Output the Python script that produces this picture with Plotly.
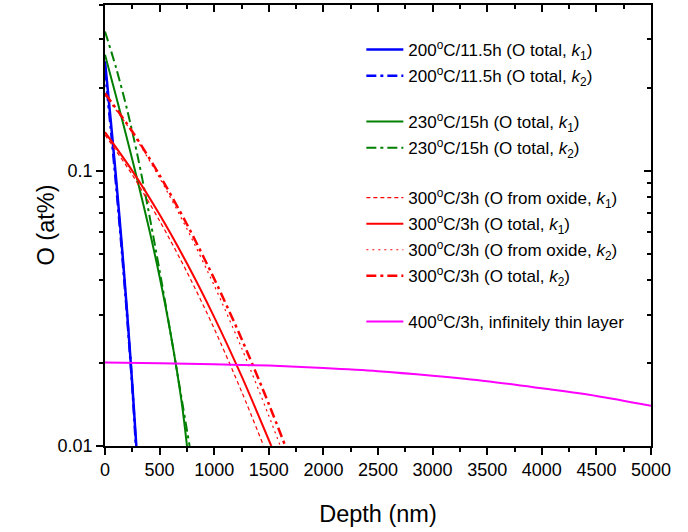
import plotly.graph_objects as go

# ---------------- data ----------------
blue_k1_x = [0, 50, 100, 150, 200, 250, 287]
blue_k1_y = [0.25, 0.156, 0.0951, 0.0560, 0.0315, 0.0167, 0.01]
blue_k2_x = [0, 50, 100, 150, 200, 250, 283]
blue_k2_y = [0.232, 0.1462, 0.0902, 0.0537, 0.0305, 0.0164, 0.01]

green_k1_x = [0, 100, 200, 300, 400, 500, 600, 700, 751]
green_k1_y = [0.264, 0.1871, 0.1315, 0.0914, 0.0624, 0.0412, 0.0257, 0.01462, 0.01]
green_k2_x = [0, 100, 200, 300, 400, 500, 600, 700, 775]
green_k2_y = [0.3206, 0.2377, 0.1683, 0.1125, 0.0710, 0.0433, 0.02576, 0.0150, 0.01]

red_ox_k1_x = [0, 250, 500, 750, 1000, 1250, 1453]
red_ox_k1_y = [0.135, 0.0966, 0.0658, 0.0429, 0.0267, 0.0158, 0.01]
red_tot_k1_x = [0, 250, 500, 750, 1000, 1250, 1523]
red_tot_k1_y = [0.138, 0.0999, 0.0693, 0.0461, 0.0294, 0.01797, 0.01]
red_ox_k2_x = [0, 250, 500, 750, 1000, 1250, 1500, 1605]
red_ox_k2_y = [0.188, 0.1374, 0.0941, 0.0615, 0.0383, 0.02275, 0.01288, 0.01]
red_tot_k2_x = [0, 250, 500, 750, 1000, 1250, 1500, 1651]
red_tot_k2_y = [0.191, 0.1388, 0.0963, 0.0639, 0.0405, 0.02455, 0.01421, 0.01]

mag_x = [0, 500, 1000, 1500, 2000, 2500, 3000, 3500, 4000, 4500, 5000]
mag_y = [0.0201, 0.0200, 0.0198, 0.0196, 0.0192, 0.0187, 0.0180, 0.0172, 0.0162, 0.0152, 0.0140]

x_range = [0, 5000]
x_dtick = 500
x_minor_dtick = 250
y_tickvals = [0.01, 0.1]
y_ticktext = ["0.01", "0.1"]
y_minor_vals = [0.02, 0.03, 0.04, 0.05, 0.06, 0.07, 0.08, 0.09, 0.2, 0.3, 0.4]
y_log_range = [-2, -0.398]

names = [
    "200<sup>o</sup>C/11.5h (O total, <i>k</i><sub>1</sub>)",
    "200<sup>o</sup>C/11.5h (O total, <i>k</i><sub>2</sub>)",
    "230<sup>o</sup>C/15h (O total, <i>k</i><sub>1</sub>)",
    "230<sup>o</sup>C/15h (O total, <i>k</i><sub>2</sub>)",
    "300<sup>o</sup>C/3h (O from oxide, <i>k</i><sub>1</sub>)",
    "300<sup>o</sup>C/3h (O total, <i>k</i><sub>1</sub>)",
    "300<sup>o</sup>C/3h (O from oxide, <i>k</i><sub>2</sub>)",
    "300<sup>o</sup>C/3h (O total, <i>k</i><sub>2</sub>)",
    "400<sup>o</sup>C/3h, infinitely thin layer",
]

FONT = "Liberation Sans, Arial, sans-serif"
DASHDOT = "10px,4px,3px,4px"
fig = go.Figure()

series = [
    (blue_k1_x, blue_k1_y, "#0000ff", "solid", 2.5, "legend"),
    (blue_k2_x, blue_k2_y, "#0000ff", DASHDOT, 2.5, "legend"),
    (green_k1_x, green_k1_y, "#008000", "solid", 2, "legend2"),
    (green_k2_x, green_k2_y, "#008000", DASHDOT, 2, "legend2"),
    (red_ox_k1_x, red_ox_k1_y, "#ff0000", "4px,3px", 1.2, "legend3"),
    (red_tot_k1_x, red_tot_k1_y, "#ff0000", "solid", 2, "legend3"),
    (red_ox_k2_x, red_ox_k2_y, "#ff0000", "2px,4px", 1.2, "legend3"),
    (red_tot_k2_x, red_tot_k2_y, "#ff0000", DASHDOT, 2.5, "legend3"),
    (mag_x, mag_y, "#ff00ff", "solid", 2, "legend4"),
]
for i, ((xs, ys, col, dash, w, leg), nm) in enumerate(zip(series, names)):
    fig.add_trace(go.Scatter(x=xs, y=ys, mode="lines", name=nm, legend=leg,
                             legendgroup="t%d" % i,
                             line=dict(color=col, dash=dash, width=w, shape="spline", smoothing=0.8)))

# empty traces so that the mirrored (top / right) axes get drawn
fig.add_trace(go.Scatter(x=[], y=[], xaxis="x2", yaxis="y", showlegend=False, hoverinfo="skip"))
fig.add_trace(go.Scatter(x=[], y=[], xaxis="x", yaxis="y2", showlegend=False, hoverinfo="skip"))

axis_common = dict(showgrid=False, zeroline=False, showline=True, linecolor="black",
                   linewidth=1.5, tickcolor="black", tickwidth=1.5)


def legend_box(top_px):
    return dict(x=0.4695, y=(446 - top_px) / 441, xanchor="left", yanchor="top",
                font=dict(size=17, family=FONT), bgcolor="rgba(0,0,0,0)",
                itemwidth=37, traceorder="grouped", tracegroupgap=1)


fig.update_layout(
    width=688, height=532,
    margin=dict(l=105, r=37, t=5, b=86, autoexpand=False),
    paper_bgcolor="white", plot_bgcolor="white",
    font=dict(family=FONT, color="black"),
    showlegend=True,
    legend=legend_box(32),
    legend2=legend_box(104),
    legend3=legend_box(180),
    legend4=legend_box(304),
    xaxis=dict(range=x_range, dtick=x_dtick, ticks="outside", ticklen=7,
               tickfont=dict(size=18), automargin=False,
               title=dict(text="Depth (nm)", font=dict(size=23.5), standoff=26),
               minor=dict(dtick=x_minor_dtick, ticks="outside", ticklen=4, tickcolor="black", tickwidth=1.5),
               **axis_common),
    xaxis2=dict(range=x_range, dtick=x_dtick, overlaying="x", side="top", anchor="y",
                ticks="inside", ticklen=7, showticklabels=False,
                minor=dict(dtick=x_minor_dtick, ticks="inside", ticklen=4, tickcolor="black", tickwidth=1.5),
                **axis_common),
    yaxis=dict(type="log", range=y_log_range, tickvals=y_tickvals, ticktext=y_ticktext,
               ticks="outside", ticklen=7, tickfont=dict(size=18), automargin=False,
               minor=dict(tickvals=y_minor_vals, ticks="outside", ticklen=4, tickcolor="black", tickwidth=1.5),
               **axis_common),
    yaxis2=dict(type="log", range=y_log_range, tickvals=y_tickvals, overlaying="y",
                side="right", anchor="x", ticks="inside", ticklen=7, showticklabels=False,
                minor=dict(tickvals=y_minor_vals, ticks="inside", ticklen=4, tickcolor="black", tickwidth=1.5),
                **axis_common),
    annotations=[dict(text="O (at%)", textangle=-90, xref="paper", yref="paper",
                      x=(45 - 105) / 546, y=0.5, xanchor="center", yanchor="middle",
                      showarrow=False, font=dict(size=23.5, family=FONT))],
)

fig.write_html("out.html", config={"displayModeBar": False},
               post_script="document.body.style.margin='0';")
